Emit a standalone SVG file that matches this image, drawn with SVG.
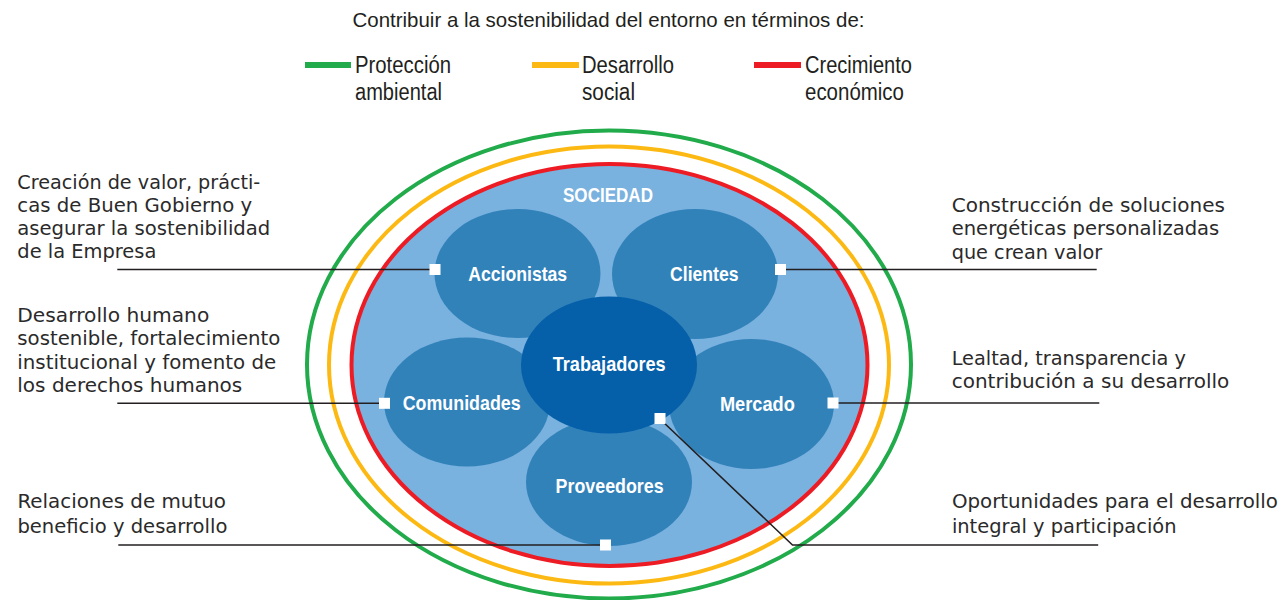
<svg xmlns="http://www.w3.org/2000/svg" width="1286" height="600" viewBox="0 0 1286 600">
<style>
.title{font-family:"Liberation Sans",Arial,sans-serif;font-size:21px;fill:#231F20}
.leg{font-family:"Liberation Sans",Arial,sans-serif;font-size:23px;fill:#231F20}
.note{font-family:"DejaVu Sans","Open Sans",sans-serif;font-size:19.5px;fill:#2b2a2a}
.lbl{font-family:"Liberation Sans",Arial,sans-serif;font-size:21px;font-weight:bold;fill:#ffffff;text-anchor:middle}
.ring{fill:none;stroke-width:4}
.stake{fill:#3282BA}
.conn{fill:none;stroke:#231F20;stroke-width:1.6}
.sq{fill:#ffffff}
</style>

<g id="title">
<text class="title" x="352.5" y="27" textLength="512" lengthAdjust="spacingAndGlyphs">Contribuir a la sostenibilidad del entorno en términos de:</text>
</g>

<g id="legend">
<line x1="305" y1="65" x2="351" y2="65" stroke="#21AB4B" stroke-width="6"/>
<text class="leg" x="355" y="73" textLength="96" lengthAdjust="spacingAndGlyphs">Protección</text>
<text class="leg" x="355" y="100" textLength="87" lengthAdjust="spacingAndGlyphs">ambiental</text>
<line x1="532" y1="65" x2="579" y2="65" stroke="#FDB913" stroke-width="6"/>
<text class="leg" x="582" y="73" textLength="92" lengthAdjust="spacingAndGlyphs">Desarrollo</text>
<text class="leg" x="582" y="100" textLength="53" lengthAdjust="spacingAndGlyphs">social</text>
<line x1="754" y1="65" x2="801" y2="65" stroke="#ED1C24" stroke-width="6"/>
<text class="leg" x="805" y="73" textLength="107" lengthAdjust="spacingAndGlyphs">Crecimiento</text>
<text class="leg" x="805" y="100" textLength="99" lengthAdjust="spacingAndGlyphs">económico</text>
</g>

<g id="rings">
<ellipse class="ring" cx="609" cy="364.5" rx="302" ry="234" stroke="#21AB4B"/>
<ellipse class="ring" cx="609" cy="365" rx="280" ry="218.5" stroke="#FDB913"/>
</g>

<g id="sociedad">
<ellipse cx="609.5" cy="365" rx="258" ry="201" fill="#79B1DF" stroke="#ED1C24" stroke-width="4"/>
<text class="lbl" x="608" y="202" textLength="90" lengthAdjust="spacingAndGlyphs">SOCIEDAD</text>
</g>

<g id="accionistas">
<ellipse class="stake" cx="517.5" cy="273.5" rx="83" ry="64.5"/>
<text class="lbl" x="517.7" y="281" textLength="99" lengthAdjust="spacingAndGlyphs">Accionistas</text>
</g>
<g id="clientes">
<ellipse class="stake" cx="695" cy="274" rx="83" ry="65"/>
<text class="lbl" x="704.3" y="281" textLength="68.5" lengthAdjust="spacingAndGlyphs">Clientes</text>
</g>
<g id="comunidades">
<ellipse class="stake" cx="467" cy="402" rx="83" ry="64.5"/>
<text class="lbl" x="461.7" y="410" textLength="118" lengthAdjust="spacingAndGlyphs">Comunidades</text>
</g>
<g id="mercado">
<ellipse class="stake" cx="751.5" cy="404" rx="82.5" ry="65"/>
<text class="lbl" x="757.4" y="411" textLength="75" lengthAdjust="spacingAndGlyphs">Mercado</text>
</g>
<g id="proveedores">
<ellipse class="stake" cx="609" cy="482" rx="83" ry="64"/>
<text class="lbl" x="609.6" y="493" textLength="108" lengthAdjust="spacingAndGlyphs">Proveedores</text>
</g>
<g id="trabajadores">
<ellipse cx="609" cy="365" rx="88" ry="68.5" fill="#0560A9"/>
<text class="lbl" x="609.2" y="371" textLength="113" lengthAdjust="spacingAndGlyphs">Trabajadores</text>
</g>

<g id="note-accionistas">
<text class="note" x="17.3" y="189" textLength="243" lengthAdjust="spacingAndGlyphs">Creación de valor, prácti-</text>
<text class="note" x="17.3" y="212" textLength="235" lengthAdjust="spacingAndGlyphs">cas de Buen Gobierno y</text>
<text class="note" x="17.3" y="235" textLength="253" lengthAdjust="spacingAndGlyphs">asegurar la sostenibilidad</text>
<text class="note" x="17.3" y="258" textLength="139" lengthAdjust="spacingAndGlyphs">de la Empresa</text>
</g>
<g id="note-comunidades">
<text class="note" x="17.3" y="321.5" textLength="192" lengthAdjust="spacingAndGlyphs">Desarrollo humano</text>
<text class="note" x="17.3" y="345" textLength="263" lengthAdjust="spacingAndGlyphs">sostenible, fortalecimiento</text>
<text class="note" x="17.3" y="368.5" textLength="259" lengthAdjust="spacingAndGlyphs">institucional y fomento de</text>
<text class="note" x="17.3" y="392" textLength="225" lengthAdjust="spacingAndGlyphs">los derechos humanos</text>
</g>
<g id="note-proveedores">
<text class="note" x="17.4" y="508.3" textLength="208.6" lengthAdjust="spacingAndGlyphs">Relaciones de mutuo</text>
<text class="note" x="17.4" y="532.5" textLength="210" lengthAdjust="spacingAndGlyphs">beneficio y desarrollo</text>
</g>
<g id="note-clientes">
<text class="note" x="951.7" y="211.5" textLength="273.3" lengthAdjust="spacingAndGlyphs">Construcción de soluciones</text>
<text class="note" x="951.7" y="235" textLength="267.6" lengthAdjust="spacingAndGlyphs">energéticas personalizadas</text>
<text class="note" x="951.7" y="258.5" textLength="150.6" lengthAdjust="spacingAndGlyphs">que crean valor</text>
</g>
<g id="note-mercado">
<text class="note" x="951.7" y="365" textLength="234.3" lengthAdjust="spacingAndGlyphs">Lealtad, transparencia y</text>
<text class="note" x="951.7" y="388.3" textLength="277.6" lengthAdjust="spacingAndGlyphs">contribución a su desarrollo</text>
</g>
<g id="note-trabajadores">
<text class="note" x="951.9" y="508.3" textLength="326" lengthAdjust="spacingAndGlyphs">Oportunidades para el desarrollo</text>
<text class="note" x="951.9" y="532.5" textLength="224.6" lengthAdjust="spacingAndGlyphs">integral y participación</text>
</g>

<g id="connectors">
<polyline class="conn" points="117.3,269.5 435,269.5"/>
<polyline class="conn" points="117.3,403.3 384.5,403.3"/>
<polyline class="conn" points="118.3,545 605.5,545"/>
<polyline class="conn" points="780.5,269.5 1096.7,269.5"/>
<polyline class="conn" points="833,403 1099.3,403"/>
<polyline class="conn" points="660,419 792.5,545 1098.2,545"/>
<rect class="sq" x="429.5" y="264" width="11" height="11"/>
<rect class="sq" x="775" y="264" width="11" height="11"/>
<rect class="sq" x="379" y="397.8" width="11" height="11"/>
<rect class="sq" x="827.5" y="397.5" width="11" height="11"/>
<rect class="sq" x="654.5" y="413" width="11" height="11"/>
<rect class="sq" x="600" y="539.5" width="11" height="11"/>
</g>
</svg>
